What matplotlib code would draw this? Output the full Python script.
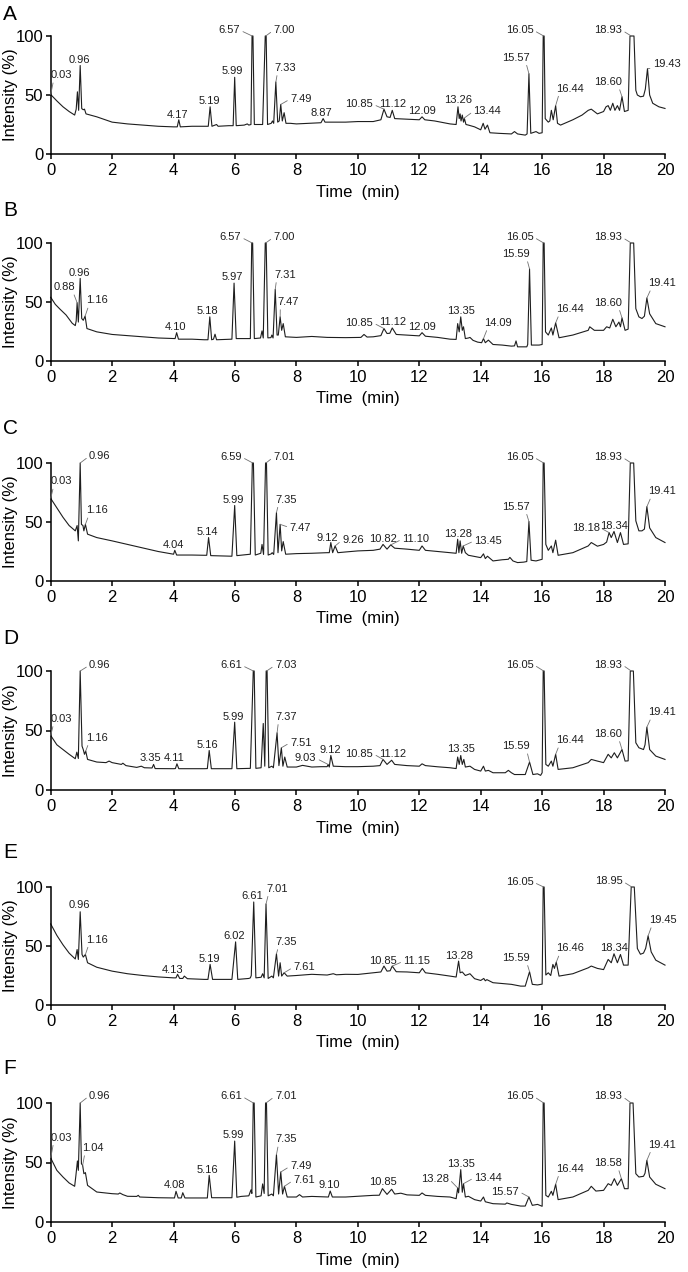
import matplotlib
matplotlib.use('Agg')
import matplotlib.pyplot as plt

plt.rcParams['font.family'] = ['Liberation Sans', 'DejaVu Sans']

# ---------------- data: chromatogram traces (time min, intensity %) ----------------
trace_A = [(0.00,50.4),(0.2,45),(0.4,40),(0.6,36),(0.78,33),(0.83,38),(0.87,52.7),(0.91,37),(0.96,75),(1.01,38.5),
           (1.06,37.5),(1.10,38),(1.15,34),(1.5,31.5),(2.0,27),(2.5,25.5),(3.0,24.5),(3.5,23.5),(4.0,23),(4.12,23),
           (4.17,29),(4.22,23),(4.6,23.5),(5.0,23.5),(5.13,23.5),(5.19,40),(5.25,23.5),(5.4,25),(5.45,23.5),(5.8,24),
           (5.94,24),(5.99,65),(6.04,24),(6.3,24.5),(6.4,25.5),(6.45,24.5),(6.52,25),(6.555,100),(6.585,100),(6.63,25),
           (6.9,25),(6.985,100),(7.015,100),(7.06,25),(7.18,26),(7.22,28),(7.26,26),(7.33,61),(7.39,27),(7.44,28),
           (7.49,42),(7.54,28),(7.6,35),(7.66,26),(7.8,26),(8.0,25.5),(8.4,26),(8.8,26.5),(8.87,30),(8.93,27),
           (9.2,27),(9.6,27),(10.0,27.5),(10.5,27.5),(10.75,29),(10.85,38),(10.95,31.5),(11.05,31),(11.12,37),(11.2,30),
           (11.6,29.5),(12.0,29),(12.09,31.5),(12.18,29),(12.5,28),(13.0,25.5),(13.2,25),(13.26,40),(13.3,30),(13.33,34),
           (13.36,28),(13.4,33),(13.44,27),(13.47,30),(13.52,25),(13.6,24.5),(13.8,23),(14.0,20.5),(14.08,26),(14.14,21),
           (14.22,24.5),(14.3,18),(14.6,17.5),(15.0,17),(15.1,19),(15.2,17),(15.45,16),(15.51,17),(15.57,68),(15.63,17.5),
           (15.8,19),(15.9,17.5),(16.0,18),(16.035,100),(16.065,100),(16.1,30),(16.2,27),(16.25,28),(16.3,37),(16.36,29),
           (16.44,41),(16.5,26),(16.6,24.5),(17.0,29),(17.3,33),(17.5,37),(17.6,38),(17.8,34),(18.0,36),(18.08,40),
           (18.15,41),(18.22,37),(18.3,43),(18.37,37),(18.45,41),(18.52,37),(18.6,48.5),(18.68,36),(18.8,37),(18.86,100),
           (18.99,100),(19.05,54),(19.1,50),(19.2,48.5),(19.3,49),(19.36,55),(19.43,72.4),(19.5,50),(19.6,43),(19.8,40),
           (20.0,38.6)]

trace_B = [(0.0,54),(0.15,48),(0.3,44),(0.5,39),(0.7,32),(0.8,30),(0.83,34),(0.86,49.4),(0.9,33),(0.96,70),
           (1.01,36),(1.06,34.5),(1.12,38),(1.18,27.5),(1.5,24.7),(2.0,22.5),(2.5,21.5),(3.0,20.5),(3.5,19.5),(4.0,19),
           (4.05,19),(4.10,24),(4.16,18.5),(4.6,18.5),(5.0,18),(5.12,18),(5.18,37.4),(5.24,18),(5.3,18.5),(5.35,22.7),
           (5.4,18),(5.9,18.5),(5.97,66),(6.04,19),(6.5,19),(6.545,100),(6.575,100),(6.63,19),(6.83,19.5),(6.88,25.5),
           (6.92,19.5),(6.985,100),(7.015,100),(7.07,19.6),(7.17,19.8),(7.2,22),(7.24,19.5),(7.31,60.7),(7.37,22),(7.41,22),
           (7.47,37.4),(7.52,26),(7.57,31.7),(7.64,20.5),(8.0,20),(8.5,20.8),(9.0,20),(9.6,19.8),(10.1,20),(10.2,22.5),
           (10.3,20.3),(10.5,20.5),(10.75,21.5),(10.85,27.5),(10.95,23.3),(11.04,23.5),(11.12,28),(11.25,22.5),(12.0,21.3),(12.09,24),
           (12.2,21),(12.6,20),(13.0,18.5),(13.2,18.3),(13.25,31.7),(13.3,24.7),(13.35,37.4),(13.4,26),(13.44,29),(13.5,19),
           (13.6,19.5),(13.65,20),(13.75,17.5),(13.9,16),(14.03,15.5),(14.09,19),(14.15,15.5),(14.25,17.7),(14.4,14),(14.7,13.5),
           (15.0,12.6),(15.1,12.8),(15.15,17),(15.2,12),(15.5,12),(15.53,14),(15.59,78),(15.65,13.5),(15.9,13.5),(16.0,14),
           (16.035,100),(16.065,100),(16.11,24.7),(16.2,22),(16.3,28),(16.35,22),(16.44,32.3),(16.55,19.7),(17.0,22),(17.5,26),
           (17.55,29),(17.7,26),(18.0,26),(18.1,29),(18.2,28),(18.3,35.4),(18.4,29),(18.5,33),(18.55,29),(18.6,36.5),
           (18.7,26),(18.8,27),(18.87,100),(18.98,100),(19.05,44.4),(19.15,37.4),(19.25,36),(19.33,38),(19.41,53.4),(19.5,40),
           (19.7,31.7),(20.0,29)]

trace_C = [(0.0,70),(0.2,62),(0.4,54),(0.6,47),(0.8,42.5),(0.86,47),(0.9,34),(0.96,100),(1.0,48),(1.05,47),
           (1.08,42.5),(1.13,48),(1.2,39.7),(1.5,36.8),(2.0,34),(2.5,31),(3.0,28),(3.5,25),(4.0,22.7),(4.04,26),
           (4.1,22),(4.6,22),(5.0,21.8),(5.08,21.8),(5.14,36.8),(5.21,21.5),(5.9,21),(5.99,64),(6.06,21.5),(6.5,22.7),
           (6.565,100),(6.6,100),(6.66,22),(6.84,23.5),(6.88,31),(6.93,22.5),(6.995,100),(7.025,100),(7.08,22),(7.18,23),
           (7.21,24),(7.26,22.5),(7.35,58),(7.4,24),(7.47,48),(7.52,25.5),(7.57,33.4),(7.65,22.7),(8.0,23.2),(8.5,23.5),
           (9.0,24),(9.07,24),(9.12,32.6),(9.18,24),(9.26,29.7),(9.35,24),(9.6,24.6),(10.0,25.5),(10.5,26),(10.72,27),
           (10.82,31),(10.95,27),(11.07,30.6),(11.2,27.8),(11.6,27),(12.0,26),(12.09,29.7),(12.2,26),(12.6,25),(13.0,24),
           (13.2,23.5),(13.25,35.4),(13.29,24),(13.33,34),(13.38,23.5),(13.43,29.7),(13.5,24),(13.6,21.8),(14.0,19.8),(14.09,23),
           (14.15,19),(14.22,21),(14.4,17),(14.7,18),(14.9,18.4),(14.95,20),(15.05,17),(15.2,15.6),(15.4,16),(15.5,16.5),
           (15.57,50.4),(15.64,17.6),(15.8,17),(16.0,18.4),(16.035,100),(16.065,100),(16.12,31),(16.2,26),(16.3,29.7),(16.35,24),
           (16.44,34.6),(16.52,21.8),(17.0,24),(17.5,29.7),(17.6,32.6),(17.8,29.5),(18.0,31),(18.1,33),(18.18,41),(18.25,36.8),
           (18.34,42),(18.45,32.6),(18.55,41),(18.65,31),(18.8,31.5),(18.87,100),(18.98,100),(19.05,51),(19.15,42.5),(19.25,42.5),
           (19.33,44),(19.41,63),(19.5,45),(19.7,36.8),(20.0,32.6)]

trace_D = [(0.0,45.8),(0.2,38),(0.4,34),(0.6,30),(0.8,26.3),(0.85,31.8),(0.9,26.5),(0.96,100),(1.02,36.9),(1.06,34),
           (1.1,30),(1.14,32.7),(1.2,25.7),(1.5,23.5),(1.8,23),(1.9,24.3),(2.0,23),(2.3,21.5),(2.35,22.5),(2.45,20.5),
           (2.8,19),(2.95,20),(3.05,18.7),(3.3,18.5),(3.35,21.5),(3.4,18),(4.0,17.9),(4.06,18),(4.11,22),(4.17,17.9),
           (5.0,17.9),(5.1,18),(5.16,33.2),(5.23,17.9),(5.9,17.9),(5.99,57),(6.06,17.9),(6.5,18.2),(6.595,100),(6.625,100),
           (6.68,18.2),(6.85,18.7),(6.92,55.9),(6.97,20),(7.015,100),(7.045,100),(7.1,18.7),(7.2,20),(7.25,18.7),(7.37,48),
           (7.43,20.5),(7.51,35.5),(7.56,20),(7.62,27.7),(7.7,19.3),(8.0,19.3),(8.2,20.7),(8.5,19.3),(8.8,19.6),(9.0,19.6),
           (9.03,21.5),(9.07,19.3),(9.12,29),(9.2,20),(9.6,19.6),(10.0,19.6),(10.5,20),(10.72,20.5),(10.82,25.7),(10.95,21.5),
           (11.1,25),(11.2,21.5),(11.6,20.5),(12.0,20),(12.09,22),(12.2,20.5),(12.6,19.5),(13.0,18.7),(13.2,18),(13.25,27.7),
           (13.3,21.5),(13.35,29),(13.4,21.5),(13.45,25.7),(13.5,19.3),(13.65,20),(13.8,17.3),(14.0,15.9),(14.09,20),(14.15,15.9),
           (14.25,16.5),(14.4,14.5),(14.8,14.5),(14.9,16.5),(15.0,14.5),(15.1,13),(15.45,13),(15.59,23.5),(15.7,13),(15.85,13.6),
           (15.95,12.3),(16.0,14.5),(16.035,100),(16.065,100),(16.12,21.5),(16.2,20),(16.3,24.3),(16.35,20),(16.44,30),(16.52,17.3),
           (17.0,18.7),(17.5,23),(17.6,25.7),(17.8,24.3),(18.0,23),(18.15,30),(18.25,27),(18.35,31.3),(18.45,27),(18.6,34),
           (18.7,24.3),(18.8,24.5),(18.87,100),(18.97,100),(19.05,39.7),(19.15,35.5),(19.3,34),(19.35,38),(19.41,52.8),(19.5,34),
           (19.7,28.5),(20.0,25.7)]

trace_E = [(0.0,68.7),(0.2,59),(0.4,51),(0.6,44),(0.8,39),(0.86,47),(0.9,38.6),(0.96,79),(1.02,42.8),(1.06,40.6),
           (1.13,42.8),(1.2,35.8),(1.5,32),(2.0,28.7),(2.5,26.5),(3.0,25),(3.5,23.8),(4.0,23),(4.08,23),(4.13,26),
           (4.2,22.5),(4.3,22.5),(4.35,24.5),(4.45,22.3),(5.0,21.7),(5.12,21.7),(5.19,34.4),(5.27,21.7),(5.9,21.7),(6.02,53.5),
           (6.09,21.7),(6.45,22.5),(6.5,23),(6.53,25),(6.61,87.3),(6.68,23),(6.85,23.5),(6.9,26.5),(6.95,23),(7.01,85.6),
           (7.08,22.5),(7.2,24.5),(7.25,23),(7.35,43.4),(7.42,24.5),(7.47,35.8),(7.52,24.5),(7.6,27.3),(7.7,24.5),(8.0,25),
           (8.5,26),(9.0,25.4),(9.2,26.5),(9.3,25.6),(9.6,26),(10.0,25.9),(10.5,27.3),(10.75,28),(10.85,33),(10.95,28.7),
           (11.05,29),(11.12,33),(11.25,28.2),(11.6,28),(12.0,27.3),(12.1,31),(12.2,27.3),(12.6,26),(13.0,24.5),(13.2,23.7),
           (13.28,37.2),(13.33,27.3),(13.4,28),(13.5,25),(13.65,26.5),(13.8,22.3),(14.0,20.8),(14.1,22.5),(14.15,20.5),(14.2,21.5),
           (14.4,18.9),(15.0,17.5),(15.3,16),(15.45,16),(15.59,28.2),(15.68,17.5),(15.85,17),(16.0,17.7),(16.035,100),(16.065,100),
           (16.12,25.4),(16.2,27.3),(16.28,25),(16.35,34.4),(16.4,31),(16.46,36.3),(16.55,24.5),(17.0,26.5),(17.5,31.5),(17.6,33),
           (17.8,31),(18.0,30),(18.15,38.6),(18.25,35.8),(18.34,43.4),(18.45,35.8),(18.55,42.8),(18.65,33.8),(18.8,33.8),(18.9,100),
           (19.0,100),(19.1,47.9),(19.2,43),(19.3,44),(19.37,48),(19.45,58.6),(19.55,45),(19.7,38),(20.0,33.8)]

trace_F = [(0.0,53.8),(0.2,43.4),(0.4,37.8),(0.6,32.8),(0.78,30),(0.82,39),(0.87,51.3),(0.9,43.4),(0.96,100),(1.0,49),
           (1.04,47.6),(1.08,40.6),(1.13,41.5),(1.2,30.8),(1.5,25.2),(2.0,23.8),(2.2,23.5),(2.25,24.4),(2.35,23),(2.5,21.6),
           (2.8,21.5),(2.85,22.4),(2.9,21),(3.5,20.4),(4.0,20.2),(4.03,20.2),(4.08,25.8),(4.15,20.2),(4.25,20.2),(4.3,24.6),
           (4.37,20.2),(5.0,20.2),(5.1,20.2),(5.16,39.2),(5.24,20.4),(5.9,20.4),(5.99,68),(6.06,20.8),(6.2,21.5),(6.45,22),
           (6.52,27),(6.55,24),(6.595,100),(6.625,100),(6.68,21),(6.85,22),(6.9,32),(6.95,24),(6.995,100),(7.025,100),
           (7.08,22),(7.2,23.5),(7.25,22),(7.35,56.6),(7.42,23.5),(7.49,42),(7.55,23.5),(7.61,30),(7.7,21),(8.0,21),
           (8.1,23),(8.2,21),(8.5,21.5),(9.0,21),(9.04,21),(9.1,26),(9.17,21),(9.6,21),(10.0,21.6),(10.5,22.4),
           (10.7,22.5),(10.8,28),(10.95,23.2),(11.1,27.5),(11.2,23.5),(11.4,24.2),(11.6,22.8),(12.0,22.4),(12.09,24.4),(12.2,22.4),
           (12.6,21.5),(13.0,21),(13.2,19.6),(13.25,28.6),(13.28,24.5),(13.35,44),(13.4,25),(13.44,32.2),(13.5,21),(13.6,21.6),
           (13.8,18.8),(14.0,17.6),(14.09,21),(14.15,17),(14.4,15.4),(14.8,15),(14.85,16),(15.0,14.8),(15.3,13.4),(15.45,13.4),
           (15.57,21),(15.68,14),(15.85,14.8),(16.0,13.2),(16.035,100),(16.065,100),(16.12,22.4),(16.2,21),(16.3,25.8),(16.35,22.4),
           (16.44,31.7),(16.52,18.8),(17.0,21),(17.5,26.6),(17.6,30),(17.75,26),(18.0,26.6),(18.15,32.2),(18.25,30.8),(18.35,36.4),
           (18.45,30.8),(18.58,36.4),(18.68,28),(18.8,28),(18.86,100),(18.96,100),(19.05,40.6),(19.15,37.8),(19.3,38.4),(19.35,41),
           (19.41,51.8),(19.5,37.8),(19.7,31.7),(20.0,28)]

# ---------------- data: peak labels (text, peak time, peak intensity) ----------------
peaks_A = [("0.03",0.0,50.4),("0.96",0.96,75),("4.17",4.17,29),("5.19",5.19,40),("5.99",5.99,65),("6.57",6.56,100),
           ("7.00",7.0,100),("7.33",7.33,61),("7.49",7.49,42),("8.87",8.87,30),("10.85",10.85,38),("11.12",11.12,37),
           ("12.09",12.09,31.5),("13.26",13.26,40),("13.44",13.44,30),("15.57",15.57,68),("16.05",16.05,100),
           ("16.44",16.44,41),("18.60",18.6,48.5),("18.93",18.9,100),("19.43",19.43,72.4)]
peaks_B = [("0.88",0.86,49.4),("0.96",0.96,70),("1.16",1.12,38),("4.10",4.10,24),("5.18",5.18,37.4),("5.97",5.97,66),
           ("6.57",6.56,100),("7.00",7.0,100),("7.31",7.31,60.7),("7.47",7.47,37.4),("10.85",10.85,27.5),("11.12",11.12,28),
           ("12.09",12.09,24),("13.35",13.35,37.4),("14.09",14.09,19),("15.59",15.59,78),("16.05",16.05,100),
           ("16.44",16.44,32.3),("18.60",18.6,36.5),("18.93",18.9,100),("19.41",19.41,53.4)]
peaks_C = [("0.03",0.0,70),("0.96",0.96,100),("1.16",1.13,48),("4.04",4.04,26),("5.14",5.14,36.8),("5.99",5.99,64),
           ("6.59",6.58,100),("7.01",7.01,100),("7.35",7.35,58),("7.47",7.47,48),("9.12",9.12,32.6),("9.26",9.26,29.7),
           ("10.82",10.82,31),("11.10",11.07,30.6),("13.28",13.25,35.4),("13.45",13.43,29.7),("15.57",15.57,50.4),
           ("16.05",16.05,100),("18.18",18.18,41),("18.34",18.34,42),("18.93",18.9,100),("19.41",19.41,63)]
peaks_D = [("0.03",0.0,45.8),("0.96",0.96,100),("1.16",1.14,32.7),("3.35",3.35,21.5),("4.11",4.11,22),("5.16",5.16,33.2),
           ("5.99",5.99,57),("6.61",6.6,100),("7.03",7.03,100),("7.37",7.37,48),("7.51",7.51,35.5),("9.03",9.03,21.5),
           ("9.12",9.12,29),("10.85",10.82,25.7),("11.12",11.1,25),("13.35",13.35,29),("15.59",15.59,23.5),
           ("16.05",16.05,100),("16.44",16.44,30),("18.60",18.6,34),("18.93",18.9,100),("19.41",19.41,52.8)]
peaks_E = [("0.96",0.96,79),("1.16",1.13,42.8),("4.13",4.13,26),("5.19",5.19,34.4),("6.02",6.02,53.5),("6.61",6.61,87.3),
           ("7.01",7.01,85.6),("7.35",7.35,43.4),("7.61",7.6,27.3),("10.85",10.85,33),("11.15",11.12,33),("13.28",13.28,37.2),
           ("15.59",15.59,28.2),("16.05",16.05,100),("16.46",16.46,36.3),("18.34",18.34,43.4),("18.95",18.92,100),
           ("19.45",19.45,58.6)]
peaks_F = [("0.03",0.0,53.8),("0.96",0.96,100),("1.04",1.04,47.6),("4.08",4.08,25.8),("5.16",5.16,39.2),("5.99",5.99,68),
           ("6.61",6.6,100),("7.01",7.01,100),("7.35",7.35,56.6),("7.49",7.49,42),("7.61",7.61,30),("9.10",9.1,26),
           ("10.85",10.8,28),("13.28",13.25,28.6),("13.35",13.35,44),("13.44",13.44,32.2),("15.57",15.57,21),
           ("16.05",16.05,100),("16.44",16.44,31.7),("18.58",18.58,36.4),("18.93",18.9,100),("19.41",19.41,51.8)]

x_ticks = [0, 2, 4, 6, 8, 10, 12, 14, 16, 18, 20]
y_ticks = [0, 50, 100]
panel_letters = ["A", "B", "C", "D", "E", "F"]

# ---------------- layout: label placement (x, y in data units, leader style) ----------------
lbl_A = [(0.36,66.8,'BL'),(0.93,80,None),(4.14,33,None),(5.17,45,None),(5.92,70,None),(5.82,104.8,'R'),
         (7.6,104.8,'L'),(7.65,73,'BL'),(8.14,46.5,'L'),(8.82,34.4,None),(10.05,42,'R'),(11.14,42,None),
         (12.1,36.3,None),(13.26,45.6,None),(14.22,36.3,'L'),(15.13,81.7,'BR'),(15.27,104.8,'R'),
         (16.9,55.5,'BL'),(18.15,61,'BR'),(18.15,104.8,'R'),(20.05,76.6,'BL')]
lbl_B = [(0.46,62.6,'BR'),(0.93,74.4,None),(1.51,51.4,'BL'),(4.05,29,None),(5.11,42,None),(5.92,71,None),
         (5.85,104.8,'R'),(7.6,104.8,'L'),(7.62,73,'BL'),(7.74,50,'BL'),(10.05,32.3,'R'),(11.14,33,None),
         (12.1,29,None),(13.35,42,None),(14.57,32.3,'BL'),(15.16,90.7,'BR'),(15.27,105,'R'),
         (16.9,44,'BL'),(18.15,49.4,'BR'),(18.15,104.8,'R'),(19.9,66,'BL')]
lbl_C = [(0.36,84.4,'BL'),(1.6,105.7,'L'),(1.51,60,'BL'),(4.0,30.6,None),(5.11,41.5,None),(5.96,68.8,None),
         (5.87,105,'R'),(7.6,105,'L'),(7.68,69,'BL'),(8.12,45.3,'L'),(9.0,36.3,None),(9.84,34.6,'L'),
         (10.82,36,None),(11.88,35.4,'L'),(13.26,40,None),(14.24,34,'L'),(15.13,63,'BR'),
         (15.27,105,'R'),(17.42,45.3,'R'),(18.34,46.7,None),(18.15,105,'R'),(19.9,76,'BL')]
lbl_D = [(0.36,59.8,'BL'),(1.6,104.7,'L'),(1.51,43.9,'BL'),(3.24,26.5,None),(4.03,26.5,None),(5.11,37.4,None),
         (5.96,61.5,None),(5.87,104.7,'R'),(7.65,104.7,'L'),(7.68,61.5,'BL'),(8.14,39.7,'L'),(8.3,26.5,'R'),
         (9.11,33.2,None),(10.05,30.4,'R'),(11.14,30.4,None),(13.35,34.6,None),(15.16,36.9,'BR'),
         (15.27,105.3,'R'),(16.9,41.9,'BL'),(18.15,47.2,'BR'),(18.15,105.3,'R'),(19.9,65.4,'BL')]
lbl_E = [(0.93,84.5,None),(1.51,55.5,'BL'),(3.98,29.3,None),(5.15,38.6,None),(5.98,58.3,None),(6.55,92.2,None),
         (7.36,98.6,'BL'),(7.68,53.5,'BL'),(8.25,32,'L'),(10.82,37.5,None),(11.92,37,'L'),(13.28,41.7,None),
         (15.16,40,'BR'),(15.27,104,'R'),(16.92,48,'BL'),(18.35,48,None),(18.17,104.8,'R'),
         (19.92,72,'BL')]
lbl_F = [(0.36,70.9,'BL'),(1.6,105.9,'L'),(1.38,62.2,'BL'),(4.03,30.8,None),(5.11,44,None),(5.96,72.8,None),
         (5.87,105.6,'R'),(7.65,105.6,'L'),(7.68,69.5,'BL'),(8.14,46.8,'L'),(8.25,35,'L'),(9.06,30.8,None),
         (10.82,33.6,None),(12.5,36.4,'R'),(13.35,49,None),(14.24,37.2,'L'),(14.8,25.5,'R'),
         (15.27,105.6,'R'),(16.9,44.8,'BL'),(18.13,49.6,'BR'),(18.15,105.6,'R'),(19.9,65,'BL')]

RELPOS = {'L': (0.0, 0.5), 'R': (1.0, 0.5), 'BL': (0.12, 0.0), 'BR': (0.88, 0.0)}

W, H = 688, 1272
fig = plt.figure(figsize=(W / 100, H / 100), dpi=100)

axis_px = [(36, 154), (243, 361), (463, 581), (671, 790), (887, 1005), (1103, 1222)]
letter_y = [14, 210, 429, 639, 853, 1068]
x0px, x1px = 50.7, 665.0

traces = [trace_A, trace_B, trace_C, trace_D, trace_E, trace_F]
peaks = [peaks_A, peaks_B, peaks_C, peaks_D, peaks_E, peaks_F]
lbls = [lbl_A, lbl_B, lbl_C, lbl_D, lbl_E, lbl_F]

for letter, trace, pk, lb, (ytop, ybot), ly in zip(panel_letters, traces, peaks, lbls, axis_px, letter_y):
    hpx = ybot - ytop
    ax = fig.add_axes([x0px / W, 1 - ybot / H, (x1px - x0px) / W, hpx / H])
    t = [p[0] for p in trace]
    y = [p[1] for p in trace]
    ax.plot(t, y, color='#1e1e1e', lw=0.8, clip_on=False)
    ax.set_xlim(0, 20)
    ax.set_ylim(0, 100)
    ax.set_xticks(x_ticks)
    ax.set_yticks(y_ticks)
    for s in ('top', 'right'):
        ax.spines[s].set_visible(False)
    for s in ('left', 'bottom'):
        ax.spines[s].set_linewidth(1.1)
    ax.tick_params(direction='out', length=3.8, width=1.1, labelsize=12, colors='black')
    ax.tick_params(axis='x', pad=3.0)
    ax.tick_params(axis='y', pad=1.5)
    ax.set_xlabel('Time  (min)', fontsize=12)
    ax.xaxis.set_label_coords(0.5, -38.0 / hpx)
    ax.xaxis.label.set_va('center')
    ax.set_ylabel('Intensity (%)', fontsize=12)
    ax.yaxis.set_label_coords((10.5 - x0px) / (x1px - x0px), 0.5)
    ax.yaxis.label.set_va('center')

    for (txt, ptx, pty), (lx, lyy, code) in zip(pk, lb):
        if code is None:
            ax.text(lx, lyy, txt, ha='center', va='center', fontsize=8, color='#1e1e1e', clip_on=False)
        else:
            ax.annotate(txt, xy=(ptx, pty), xytext=(lx, lyy), textcoords='data',
                        ha='center', va='center', fontsize=8, color='#1e1e1e',
                        annotation_clip=False,
                        arrowprops=dict(arrowstyle='-', color='#707070', lw=0.6,
                                        shrinkA=0, shrinkB=0, relpos=RELPOS[code]))

    fig.text(3.0 / W, 1 - ly / H, letter, fontsize=15, ha='left', va='center')

fig.savefig('out.png', dpi=100)
